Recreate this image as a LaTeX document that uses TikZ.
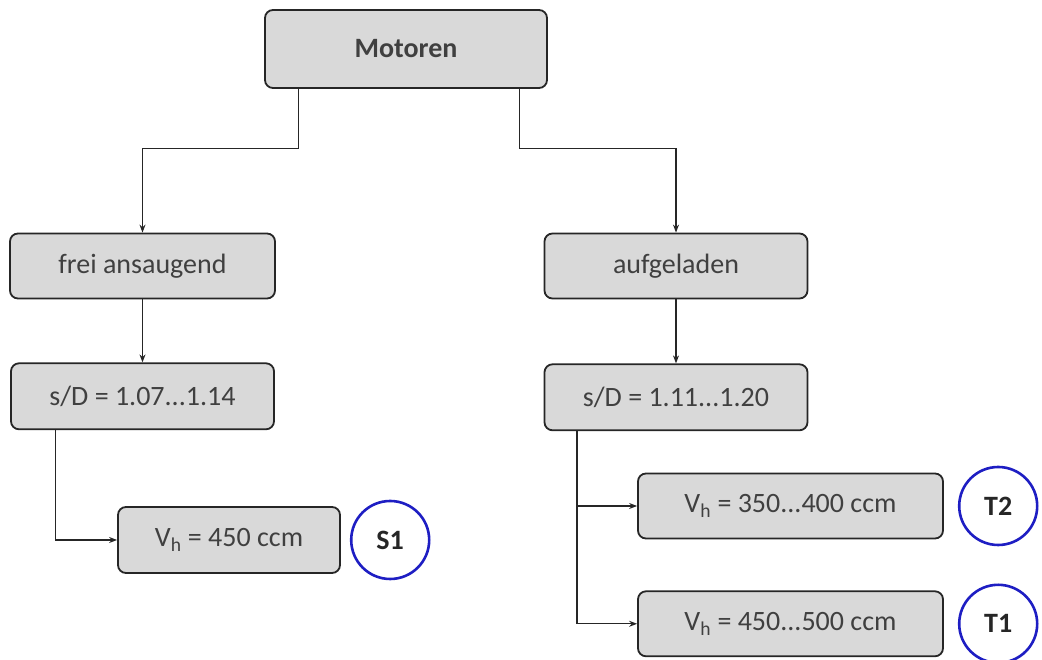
\documentclass[tikz,border=0pt]{standalone}
\usepackage{fontspec}
\setmainfont{Carlito}
\usepackage{xcolor}
\usepackage{tikz}
\usetikzlibrary{arrows.meta,positioning,calc}

\definecolor{boxgray}{RGB}{217,217,217}
\definecolor{ringblue}{RGB}{30,30,195}

\begin{document}
\begin{tikzpicture}[
    x=1pt, y=1pt,
    node distance=60pt,
    box/.style={draw=black!85, line width=1.8pt, fill=boxgray, rounded corners=8pt, minimum height=65pt, font=\fontsize{28}{30}\selectfont, text=black!75, align=center, inner sep=0pt},
    ring/.style={draw=ringblue, line width=2.6pt, fill=white, circle, minimum size=78pt, inner sep=0pt, font=\fontsize{28}{30}\selectfont\bfseries, text=black!85},
    arr/.style={-{Stealth[length=8pt,width=6pt]}, line width=1.2pt, black!85}
]
\useasboundingbox (0,0) rectangle (1042,660);

\node[box, minimum width=282pt, minimum height=78pt, font=\fontsize{28}{30}\selectfont\bfseries] (motoren) at (406,611) {Motoren};
\node[box, minimum width=265pt] (frei) at (142.5,394) {frei ansaugend};
\node[box, minimum width=263pt] (aufgeladen) at (676,394) {aufgeladen};
\node[box, minimum width=263pt, minimum height=66pt, below=63pt of frei] (sdfrei) {s/D = 1.07...1.14};
\node[box, minimum width=263pt, minimum height=66pt, below=64pt of aufgeladen] (sdauf) {s/D = 1.11...1.20};

\node[box, minimum width=222pt, minimum height=66pt] (vhs) at (229,120) {V\textsubscript{h} = 450 ccm};
\node[box, minimum width=305pt] (vhzwei) at (790.5,154) {V\textsubscript{h} = 350...400 ccm};
\node[box, minimum width=305pt, below=51pt of vhzwei] (vheins) {V\textsubscript{h} = 450...500 ccm};

\node[ring, right=9pt of vhs] (seins) {S1};
\node[ring, right=14pt of vhzwei] (tzwei) {T2};
\node[ring, right=14pt of vheins] (teins) {T1};

% Verzweigung oben
\coordinate (ml) at ($(motoren.south west)!0.12!(motoren.south east)$);
\coordinate (mr) at ($(motoren.south west)!0.9!(motoren.south east)$);
\draw[arr] (ml) -- ++(0,-60) -| (frei.north);
\draw[arr] (mr) -- ++(0,-60) -| (aufgeladen.north);

\draw[arr] (frei) -- (sdfrei);
\draw[arr] (aufgeladen) -- (sdauf);

% Hubraeume
\coordinate (sl) at ($(sdfrei.south west)!0.17!(sdfrei.south east)$);
\coordinate (sr) at ($(sdauf.south west)!0.126!(sdauf.south east)$);
\draw[arr] (sl) |- (vhs.west);
\draw[arr] (sr) |- (vhzwei.west);
\draw[arr] (sr) |- (vheins.west);
\end{tikzpicture}
\end{document}
